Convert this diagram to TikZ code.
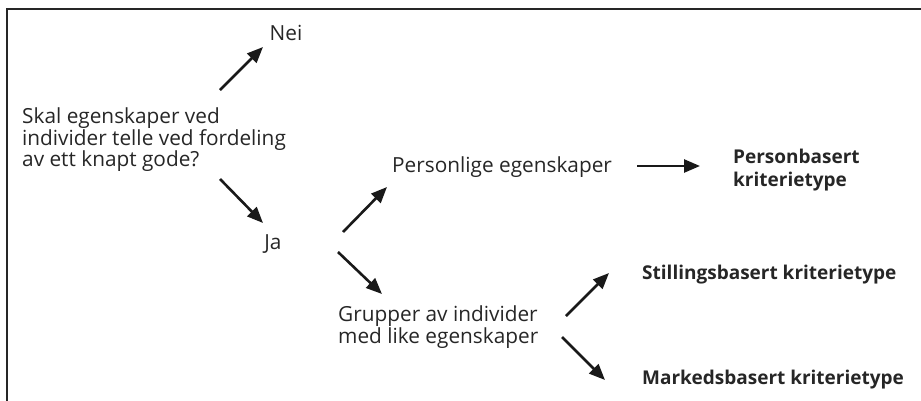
\documentclass[tikz,border=0pt]{standalone}
\usepackage{fontspec}
\setmainfont{Open Sans}
\usetikzlibrary{arrows.meta}
\begin{document}
\begin{tikzpicture}[x=1pt,y=-1pt,
  txt/.style={inner sep=0pt,font=\fontsize{20.8}{21.5}\selectfont,align=left,text=black!85},
  bold/.style={txt,font=\fontsize{19}{23}\selectfont\bfseries},
  arr/.style={line width=2.6pt,-{Triangle[length=16pt,width=13pt]},black!90}]
\useasboundingbox (0,0) rectangle (921,400);
\draw[line width=2.2pt,black!85] (7,410) -- (7,9) -- (930,9);
\node[txt,anchor=center] (nei) at (286,33) {Nei};
\node[txt,anchor=west] (q) at (22,140) {Skal egenskaper ved\\individer telle ved fordeling\\av ett knapt gode?};
\node[txt,anchor=center] (ja) at (273,244) {Ja};
\node[txt,anchor=west] (pe) at (392,167) {Personlige egenskaper};
\node[bold,anchor=west] (pb) at (733,170) {Personbasert\\kriterietype};
\node[txt,anchor=west] (gr) at (338,327) {Grupper av individer\\med like egenskaper};
\node[bold,anchor=west] (sb) at (642,275) {Stillingsbasert kriterietype};
\node[bold,anchor=west] (mb) at (642,380) {Markedsbasert kriterietype};
\coordinate (a1s) at (220,90);  \coordinate (a1e) at (263,47);
\coordinate (a2s) at (220,179); \coordinate (a2e) at (263,223);
\coordinate (a3s) at (343,232); \coordinate (a3e) at (387,187);
\coordinate (a4s) at (637,166); \coordinate (a4e) at (700,166);
\coordinate (a5s) at (338,252); \coordinate (a5e) at (382,294);
\coordinate (a6s) at (566,316); \coordinate (a6e) at (609,273);
\coordinate (a7s) at (562,337); \coordinate (a7e) at (605,380);
\draw[arr] (a1s) -- (a1e);
\draw[arr] (a2s) -- (a2e);
\draw[arr] (a3s) -- (a3e);
\draw[arr] (a4s) -- (a4e);
\draw[arr] (a5s) -- (a5e);
\draw[arr] (a6s) -- (a6e);
\draw[arr] (a7s) -- (a7e);
\end{tikzpicture}
\end{document}
